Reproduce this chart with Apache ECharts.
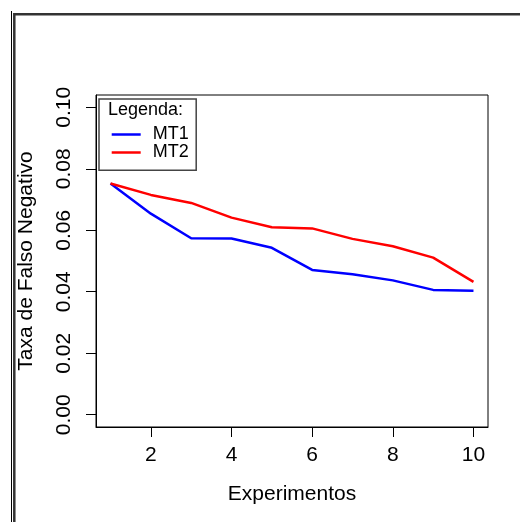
<!DOCTYPE html>
<html>
<head>
<meta charset="utf-8">
<script src="https://cdn.jsdelivr.net/npm/echarts@6/dist/echarts.min.js"></script>
<style>
  html, body { margin: 0; padding: 0; background: #fff; }
  #main { width: 520px; height: 522px; }
</style>
</head>
<body>
<div id="main"></div>
<script>
// values
var experimentos = [1, 2, 3, 4, 5, 6, 7, 8, 9, 10];
var mt1 = [0.0752, 0.0654, 0.0574, 0.0573, 0.0543, 0.0471, 0.0457, 0.0437, 0.0406, 0.0403];
var mt2 = [0.0752, 0.0715, 0.0689, 0.0641, 0.0610, 0.0606, 0.0572, 0.0548, 0.0511, 0.0432];
var xTicks = [2, 4, 6, 8, 10];
var yTicks = [0, 0.02, 0.04, 0.06, 0.08, 0.10];

var font = "'Liberation Sans', Arial, sans-serif";

function pairs(ys) {
    return experimentos.map(function (x, i) { return [x, ys[i]]; });
}

var myChart = echarts.init(document.getElementById('main'));
myChart.setOption({
    animation: false,
    backgroundColor: '#fff',
    textStyle: { fontFamily: font, color: '#000' },
    title: {
        text: 'Legenda:',
        left: 108,
        top: 101.5,
        padding: 0,
        textStyle: { fontFamily: font, fontSize: 18, fontWeight: 'normal', color: '#000', lineHeight: 18 }
    },
    legend: {
        orient: 'vertical',
        left: 99,
        top: 99,
        data: ['MT1', 'MT2'],
        icon: 'rect',
        itemWidth: 29,
        itemHeight: 2.5,
        itemGap: 0,
        padding: [26.5, 7.5, 8.8, 12.7],
        borderColor: '#444',
        borderWidth: 1.5,
        selectedMode: false,
        textStyle: { fontFamily: font, fontSize: 18, color: '#000', lineHeight: 17, padding: [0, 0, 0, 7] }
    },
    grid: {
        left: 96,
        top: 95,
        right: 32,
        bottom: 95,
        show: true,
        borderColor: '#000',
        borderWidth: 1,
        backgroundColor: 'transparent'
    },
    xAxis: {
        type: 'value',
        min: 0.64,
        max: 10.36,
        name: 'Experimentos',
        nameLocation: 'middle',
        nameGap: 57,
        nameTextStyle: { fontFamily: font, fontSize: 21, color: '#000' },
        axisLine: { show: true, onZero: false, lineStyle: { color: '#000', width: 1 } },
        axisTick: { show: true, inside: false, length: 10, customValues: xTicks, lineStyle: { color: '#000' } },
        axisLabel: { customValues: xTicks, margin: 18, fontSize: 21, color: '#000', fontFamily: font },
        splitLine: { show: false }
    },
    yAxis: {
        type: 'value',
        min: -0.004,
        max: 0.104,
        name: 'Taxa de Falso Negativo',
        nameLocation: 'middle',
        nameRotate: 90,
        nameGap: 59,
        nameTextStyle: { fontFamily: font, fontSize: 21, color: '#000' },
        axisLine: { show: true, onZero: false, lineStyle: { color: '#000', width: 1 } },
        axisTick: { show: true, inside: false, length: 10, customValues: yTicks, lineStyle: { color: '#000' } },
        axisLabel: {
            customValues: yTicks,
            rotate: 90,
            margin: 21,
            fontSize: 21,
            color: '#000',
            fontFamily: font,
            formatter: function (v) { return v.toFixed(2); }
        },
        splitLine: { show: false }
    },
    series: [
        {
            name: 'MT1',
            type: 'line',
            data: pairs(mt1),
            symbol: 'none',
            color: '#0000ff',
            lineStyle: { color: '#0000ff', width: 2.5 }
        },
        {
            name: 'MT2',
            type: 'line',
            data: pairs(mt2),
            symbol: 'none',
            color: '#ff0000',
            lineStyle: { color: '#ff0000', width: 2.5 }
        }
    ],
    graphic: [
        { type: 'line', shape: { x1: 11.5, y1: 11, x2: 11.5, y2: 522 }, style: { stroke: '#000', lineWidth: 1 } },
        { type: 'polyline', shape: { points: [[14.3, 522], [14.3, 14.2], [520, 14.2]] }, style: { stroke: '#333', lineWidth: 2.5, fill: null } }
    ]
});
</script>
</body>
</html>
